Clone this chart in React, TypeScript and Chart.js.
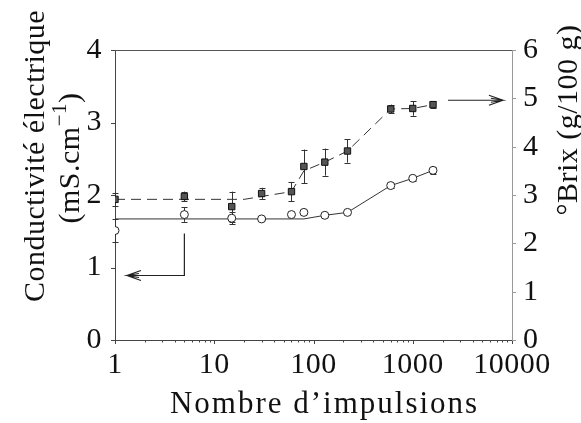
import React, { useEffect, useRef } from 'react';
import { Chart, registerables } from 'chart.js';

Chart.register(...registerables);

// ---- data ----
const impulses = [1, 5, 15, 30, 60, 80, 130, 220, 600, 1000, 1600];
const conductivity = [1.51, 1.73, 1.68, 1.67, 1.73, 1.76, 1.72, 1.76, 2.13, 2.23, 2.34];
const conductivityErr = [0.16, 0.1, 0.08, 0.02, 0.02, 0.02, 0.02, 0.02, 0.03, 0.03, 0.05];
const brix = [2.91, 2.97, 2.76, 3.03, 3.07, 3.59, 3.68, 3.91, 4.78, 4.79, 4.87];
const brixErr = [0.14, 0.1, 0.31, 0.12, 0.2, 0.35, 0.28, 0.24, 0.09, 0.15, 0.07];

const conductivityFitX = [1, 80, 130, 220, 600, 1000, 1600];
const conductivityFitY = [1.67, 1.67, 1.72, 1.76, 2.13, 2.23, 2.34];
const brixFitX = [1, 20, 60, 80, 130, 220, 600, 1000, 1600];
const brixFitY = [2.91, 2.91, 3.07, 3.5, 3.68, 3.91, 4.78, 4.79, 4.87];

const xTicks = [1, 10, 100, 1000, 10000];
const leftTicks = [0, 1, 2, 3, 4];
const rightTicks = [0, 1, 2, 3, 4, 5, 6];

const xTitle = 'Nombre d’impulsions';
const leftTitle = 'Conductivité électrique';
const leftUnit = ['(mS.cm', '−1', ')'];
const rightTitle = '°Brix (g/100 g)';

const leftArrowX = [5, 5, 1.32];
const leftArrowY = [1.47, 0.89, 0.89];
const rightArrowX = [2265, 8100];
const rightArrowY = [4.96, 4.96];

const FONT = '"Liberation Serif", "Times New Roman", serif';

const zip = (xs: number[], ys: number[]) => xs.map((x, i) => ({ x, y: ys[i] }));

const decor = {
  id: 'decor',
  beforeDraw(chart: any) {
    (chart.ctx as any).letterSpacing = '0.5px';
  },
  beforeDatasetsDraw(chart: any) {
    const ctx = chart.ctx;
    ctx.save();
    ctx.strokeStyle = '#333';
    ctx.lineWidth = 1;
    chart.data.datasets.forEach((ds: any, i: number) => {
      if (!ds.errors) return;
      const meta = chart.getDatasetMeta(i);
      const ys = chart.scales[ds.yAxisID];
      meta.data.forEach((pt: any, j: number) => {
        const e = ds.errors[j];
        if (!e) return;
        const v = ds.data[j].y;
        const y1 = ys.getPixelForValue(v - e);
        const y2 = ys.getPixelForValue(v + e);
        const x = Math.round(pt.x) + 0.5;
        ctx.beginPath();
        ctx.moveTo(x, y1);
        ctx.lineTo(x, y2);
        ctx.moveTo(x - 3, Math.round(y1) + 0.5);
        ctx.lineTo(x + 3, Math.round(y1) + 0.5);
        ctx.moveTo(x - 3, Math.round(y2) + 0.5);
        ctx.lineTo(x + 3, Math.round(y2) + 0.5);
        ctx.stroke();
      });
    });
    ctx.restore();
  },
  afterDraw(chart: any) {
    const ctx = chart.ctx;
    const a = chart.chartArea;
    const xs = chart.scales.x;
    const yl = chart.scales.y;
    const yr = chart.scales.y2;
    ctx.save();
    // top frame line
    ctx.strokeStyle = '#555';
    ctx.lineWidth = 1;
    ctx.beginPath();
    ctx.moveTo(a.left, a.top + 0.5);
    ctx.lineTo(a.right, a.top + 0.5);
    ctx.stroke();
    // x ticks (log minor)
    ctx.strokeStyle = '#444';
    ctx.beginPath();
    for (let d = 1; d < 10000; d *= 10) {
      for (let m = 1; m < 10; m++) {
        const px = Math.round(xs.getPixelForValue(d * m)) + 0.5;
        ctx.moveTo(px, a.bottom);
        ctx.lineTo(px, a.bottom + (m === 1 ? 4 : 2.5));
      }
    }
    const pe = Math.round(xs.getPixelForValue(10000)) + 0.5;
    ctx.moveTo(pe, a.bottom);
    ctx.lineTo(pe, a.bottom + 4);
    ctx.stroke();
    // left ticks
    ctx.beginPath();
    leftTicks.forEach((v) => {
      const py = Math.round(yl.getPixelForValue(v)) + 0.5;
      ctx.moveTo(a.left, py);
      ctx.lineTo(a.left - 4, py);
    });
    ctx.stroke();
    // right ticks
    ctx.strokeStyle = '#999';
    ctx.beginPath();
    rightTicks.forEach((v) => {
      const py = Math.round(yr.getPixelForValue(v)) + 0.5;
      ctx.moveTo(a.right, py);
      ctx.lineTo(a.right + 4, py);
    });
    ctx.stroke();

    // arrows
    const drawArrow = (pts: { x: number; y: number }[]) => {
      ctx.strokeStyle = '#222';
      ctx.lineWidth = 1.2;
      ctx.beginPath();
      pts.forEach((p, i) => (i ? ctx.lineTo(p.x, p.y) : ctx.moveTo(p.x, p.y)));
      ctx.stroke();
      const t = pts[pts.length - 1];
      const s = pts[pts.length - 2];
      const dir = Math.sign(t.x - s.x);
      ctx.beginPath();
      ctx.moveTo(t.x - dir * 14, t.y - 5);
      ctx.lineTo(t.x, t.y);
      ctx.lineTo(t.x - dir * 14, t.y + 5);
      ctx.moveTo(t.x - dir * 12, t.y - 2);
      ctx.lineTo(t.x, t.y);
      ctx.lineTo(t.x - dir * 12, t.y + 2);
      ctx.stroke();
    };
    drawArrow(leftArrowX.map((v, i) => ({ x: xs.getPixelForValue(v), y: yl.getPixelForValue(leftArrowY[i]) })));
    drawArrow(rightArrowX.map((v, i) => ({ x: xs.getPixelForValue(v), y: yr.getPixelForValue(rightArrowY[i]) })));

    // titles
    ctx.fillStyle = '#111';
    ctx.textBaseline = 'alphabetic';
    ctx.textAlign = 'center';
    (ctx as any).letterSpacing = '2px';
    ctx.font = `31px ${FONT}`;
    ctx.fillText(xTitle, (a.left + a.right) / 2 + 11, 413);

    // left title, rotated
    (ctx as any).letterSpacing = '0.5px';
    ctx.save();
    ctx.translate(44, 156);
    ctx.rotate(-Math.PI / 2);
    ctx.font = `30px ${FONT}`;
    ctx.fillText(leftTitle, 0, 0);
    ctx.restore();

    ctx.save();
    ctx.translate(79, 158);
    ctx.rotate(-Math.PI / 2);
    ctx.textAlign = 'left';
    const sizes = [30, 21, 30];
    const offs = [0, -13, 0];
    const widths = leftUnit.map((t, i) => {
      ctx.font = `${sizes[i]}px ${FONT}`;
      return ctx.measureText(t).width;
    });
    let cx = -widths.reduce((s, w) => s + w, 0) / 2;
    leftUnit.forEach((t, i) => {
      ctx.font = `${sizes[i]}px ${FONT}`;
      ctx.fillText(t, cx, offs[i]);
      cx += widths[i];
    });
    ctx.restore();

    // right title
    ctx.save();
    ctx.translate(577, 120);
    ctx.rotate(-Math.PI / 2);
    ctx.font = `30px ${FONT}`;
    ctx.fillText(rightTitle, 0, 0);
    ctx.restore();

    (ctx as any).letterSpacing = '0px';
    ctx.restore();
  },
};

export default function App() {
  const ref = useRef<HTMLCanvasElement>(null);
  useEffect(() => {
    document.body.style.margin = '0';
    const canvas = ref.current!;
    const tickFont = { family: FONT, size: 30 };
    const chart = new Chart(canvas, {
      type: 'scatter',
      data: {
        datasets: [
          {
            label: 'Conductivité',
            data: zip(impulses, conductivity),
            errors: conductivityErr,
            yAxisID: 'y',
            pointStyle: 'circle',
            pointRadius: 4,
            pointBackgroundColor: '#fff',
            pointBorderColor: '#222',
            pointBorderWidth: 1,
            showLine: false,
          } as any,
          {
            label: '°Brix',
            data: zip(impulses, brix),
            errors: brixErr,
            yAxisID: 'y2',
            pointStyle: 'rect',
            pointRadius: 4.5,
            pointBackgroundColor: '#555',
            pointBorderColor: '#111',
            pointBorderWidth: 1,
            showLine: false,
          } as any,
          {
            label: 'fit conductivité',
            data: zip(conductivityFitX, conductivityFitY),
            yAxisID: 'y',
            showLine: true,
            borderColor: '#333',
            borderWidth: 1,
            pointRadius: 0,
            tension: 0,
          },
          {
            label: 'fit brix',
            data: zip(brixFitX, brixFitY),
            yAxisID: 'y2',
            showLine: true,
            borderColor: '#333',
            borderWidth: 1,
            borderDash: [10, 6],
            pointRadius: 0,
            tension: 0,
          },
        ],
      },
      options: {
        animation: false,
        responsive: false,
        devicePixelRatio: 1,
        layout: { padding: { top: 50, left: 0, right: 0, bottom: 0 } },
        plugins: { legend: { display: false }, tooltip: { enabled: false } },
        scales: {
          x: {
            type: 'logarithmic',
            position: 'bottom',
            min: 1,
            max: 10000,
            afterBuildTicks: (s: any) => {
              s.ticks = xTicks.map((v) => ({ value: v }));
            },
            afterFit: (s: any) => {
              s.height = 83;
            },
            ticks: {
              font: tickFont,
              color: '#111',
              padding: 7,
              autoSkip: false,
              maxRotation: 0,
              callback: (v: any) => String(v),
            },
            grid: { display: false, drawTicks: false },
            border: { display: true, color: '#444', width: 1 },
          },
          y: {
            type: 'linear',
            position: 'left',
            min: 0,
            max: 4,
            afterBuildTicks: (s: any) => {
              s.ticks = leftTicks.map((v) => ({ value: v }));
            },
            afterFit: (s: any) => {
              s.width = 115;
            },
            ticks: { font: tickFont, color: '#111', padding: 13, callback: (v: any) => String(v) },
            grid: { display: false, drawTicks: false },
            border: { display: true, color: '#444', width: 1 },
          },
          y2: {
            type: 'linear',
            position: 'right',
            min: 0,
            max: 6,
            afterBuildTicks: (s: any) => {
              s.ticks = rightTicks.map((v) => ({ value: v }));
            },
            afterFit: (s: any) => {
              s.width = 69;
            },
            ticks: { font: tickFont, color: '#111', padding: 11, callback: (v: any) => String(v) },
            grid: { display: false, drawTicks: false },
            border: { display: true, color: '#999', width: 1 },
          },
        },
      } as any,
      plugins: [decor],
    });
    return () => chart.destroy();
  }, []);
  return (
    <div style={{ width: 581, height: 423, position: 'relative', background: '#fff', overflow: 'hidden' }}>
      <canvas ref={ref} width={581} height={423} style={{ display: 'block' }} />
    </div>
  );
}
